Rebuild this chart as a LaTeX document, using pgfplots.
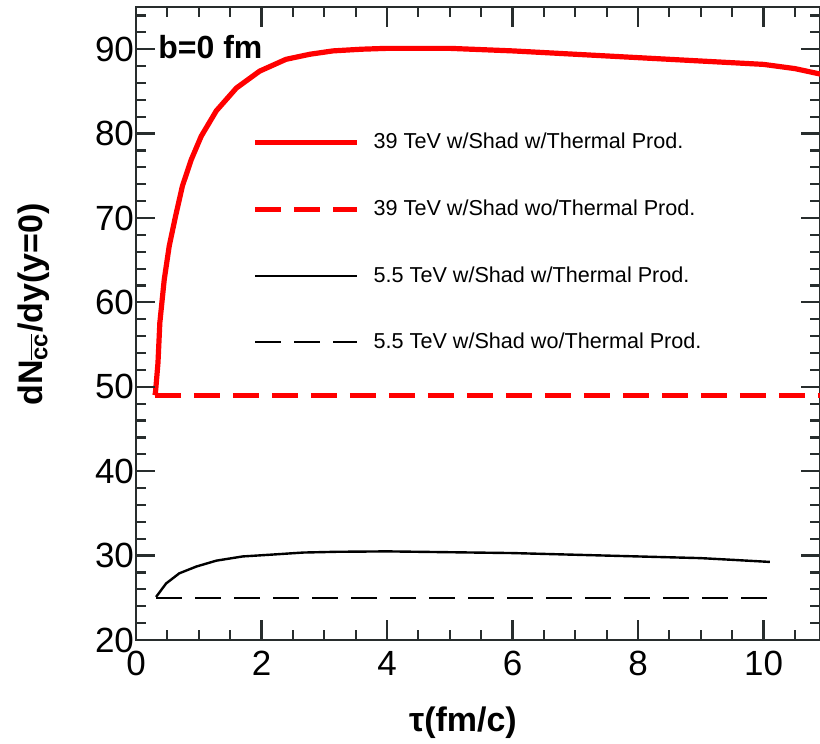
\documentclass[border=0pt]{standalone}
\usepackage{fontspec}
\setmainfont{Liberation Sans}
\usepackage{pgfplots}
\pgfplotsset{compat=1.18}
\definecolor{axgray}{RGB}{40,45,45}
\begin{document}
\begin{tikzpicture}
\begin{axis}[
  width=342pt, height=316.5pt, scale only axis,
  xmin=0, xmax=10.9, ymin=20, ymax=95,
  axis line style={axgray, line width=0.8pt},
  xtick={0,2,4,6,8,10}, ytick={20,30,40,50,60,70,80,90},
  minor x tick num=3, minor y tick num=4,
  every tick/.append style={axgray, line width=1.1pt},
  major tick length=9.5pt, minor tick length=5pt,
  tick align=inside, tick pos=both,
  /pgf/number format/assume math mode=true,
  ticklabel style={font=\fontsize{17.5}{20}\selectfont},
  yticklabel style={xshift=2.5pt},
  xticklabel style={yshift=-2pt},
  xlabel={\textbf{τ(fm/c)}},
  ylabel={\textbf{dN\textsubscript{$\overline{\mbox{cc}}$}/dy(y=0)}},
  label style={font=\fontsize{17}{20}\selectfont},
  xlabel style={at={(axis description cs:0.478,-0.131)}, anchor=center},
  ylabel style={at={(axis description cs:-0.150,0.53)}, anchor=center},
  legend style={draw=none, fill=none, at={(axis description cs:0.161,0.814)}, anchor=north west,
    font=\fontsize{10.8}{12}\selectfont, row sep=20pt},
  legend cell align=left,
  legend image code/.code={\draw[#1] (0pt,0pt) -- (51pt,0pt); \path (56pt,0pt);},
]
\addplot[red, line width=2.6pt] coordinates {
(0.3,49) (0.31,49.3) (0.35,52.8) (0.38,57.6) (0.45,62.7) (0.53,66.7) (0.63,70.2) (0.74,73.8)
(0.88,76.9) (1.04,79.7) (1.28,82.7) (1.6,85.4) (1.97,87.4) (2.39,88.8) (2.77,89.4) (3.14,89.8)
(3.6,90.0) (4,90.1) (5,90.1) (6,89.8) (7,89.4) (8,89) (9,88.6) (10,88.2) (10.5,87.7) (11,86.9)};
\addlegendentry{39 TeV w/Shad w/Thermal Prod.}
\addplot[red, line width=2.6pt, dash pattern=on 13pt off 6.5pt] coordinates {(0.3,49) (11,49)};
\addlegendentry{39 TeV w/Shad wo/Thermal Prod.}
\addplot[black, line width=1.2pt] coordinates {
(0.32,25.1) (0.48,26.7) (0.69,27.9) (0.96,28.7) (1.28,29.4) (1.7,29.9) (2.13,30.1) (2.66,30.36)
(3.19,30.45) (4,30.5) (5,30.4) (6,30.3) (7,30.1) (8,29.9) (9,29.7) (9.5,29.5) (10.1,29.25)};
\addlegendentry{5.5 TeV w/Shad w/Thermal Prod.}
\addplot[black, line width=1pt, dash pattern=on 13pt off 6.5pt] coordinates {(0.32,25) (10.1,25)};
\addlegendentry{5.5 TeV w/Shad wo/Thermal Prod.}
\node[anchor=west, inner sep=0pt, font=\fontsize{16}{18}\selectfont\bfseries] at (axis cs:0.35,90.2) {b=0 fm};
\pgfplotsinvokeforeach{2,4,6,8,10}{
  \draw[axgray, line width=1.1pt] (axis cs:#1,20) -- ++(0pt,10pt);
  \draw[axgray, line width=1.1pt] (axis cs:#1,95) -- ++(0pt,-10pt);}
\pgfplotsinvokeforeach{0.5,1,1.5,2.5,3,3.5,4.5,5,5.5,6.5,7,7.5,8.5,9,9.5,10.5}{
  \draw[axgray, line width=1.1pt] (axis cs:#1,20) -- ++(0pt,5pt);
  \draw[axgray, line width=1.1pt] (axis cs:#1,95) -- ++(0pt,-5pt);}
\pgfplotsinvokeforeach{30,40,50,60,70,80,90}{
  \draw[axgray, line width=1.1pt] (axis cs:0,#1) -- ++(9.5pt,0pt);
  \draw[axgray, line width=1.1pt] (axis cs:10.9,#1) -- ++(-9.5pt,0pt);}
\pgfplotsinvokeforeach{22,24,26,28,32,34,36,38,42,44,46,48,52,54,56,58,62,64,66,68,72,74,76,78,82,84,86,88,92,94}{
  \draw[axgray, line width=1.1pt] (axis cs:0,#1) -- ++(5pt,0pt);
  \draw[axgray, line width=1.1pt] (axis cs:10.9,#1) -- ++(-5pt,0pt);}
\end{axis}
\pgfresetboundingbox
\path[use as bounding box] ([shift={(-68pt,-52pt)}]current axis.south west) rectangle ([shift={(0pt,3.5pt)}]current axis.north east);
\end{tikzpicture}
\end{document}
